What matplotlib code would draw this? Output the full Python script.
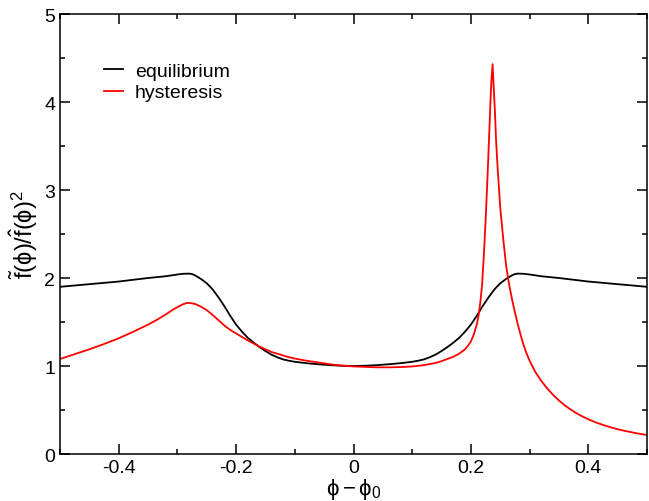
import matplotlib
matplotlib.use("Agg")
import matplotlib.pyplot as plt
from matplotlib.ticker import MultipleLocator

plt.rcParams['font.family'] = ['Liberation Sans', 'DejaVu Sans']
plt.rcParams['mathtext.fontset'] = 'custom'
plt.rcParams['mathtext.rm'] = 'Liberation Sans'
plt.rcParams['mathtext.it'] = 'Liberation Sans'
plt.rcParams['mathtext.sf'] = 'Liberation Sans'

# equilibrium (black)
eq_x = [-0.5, -0.45, -0.4, -0.35, -0.32, -0.30, -0.29, -0.28, -0.275, -0.27, -0.265, -0.26,
        -0.255, -0.25, -0.245, -0.24, -0.235, -0.23, -0.225, -0.22, -0.215, -0.21, -0.205,
        -0.20, -0.195, -0.19, -0.185, -0.18, -0.17, -0.16, -0.15, -0.14, -0.13, -0.12, -0.11,
        -0.10, -0.08, -0.06, -0.04, -0.02, 0.0,
        0.02, 0.04, 0.06, 0.08, 0.10, 0.11, 0.12, 0.13, 0.14, 0.15, 0.16, 0.17, 0.18, 0.185,
        0.19, 0.195, 0.20, 0.205, 0.21, 0.215, 0.22, 0.225, 0.23, 0.235, 0.24, 0.245, 0.25,
        0.255, 0.26, 0.265, 0.27, 0.275, 0.28, 0.29, 0.30, 0.32, 0.35, 0.4, 0.45, 0.5]
eq_y = [1.90, 1.93, 1.96, 2.00, 2.02, 2.04, 2.048, 2.05, 2.045, 2.03, 2.01, 1.99,
        1.965, 1.94, 1.905, 1.87, 1.825, 1.78, 1.73, 1.68, 1.625, 1.57, 1.52,
        1.47, 1.43, 1.39, 1.355, 1.32, 1.265, 1.215, 1.17, 1.13, 1.10, 1.075, 1.06,
        1.048, 1.032, 1.02, 1.01, 1.003, 1.0,
        1.003, 1.01, 1.02, 1.032, 1.048, 1.06, 1.075, 1.10, 1.13, 1.17, 1.215, 1.265, 1.32, 1.355,
        1.39, 1.43, 1.47, 1.52, 1.57, 1.625, 1.68, 1.73, 1.78, 1.825, 1.87, 1.905, 1.94,
        1.965, 1.99, 2.01, 2.03, 2.045, 2.05, 2.048, 2.04, 2.02, 2.00, 1.96, 1.93, 1.90]

# hysteresis (red)
hy_x = [-0.5, -0.475, -0.45, -0.425, -0.40, -0.375, -0.35, -0.335, -0.32, -0.31, -0.30,
        -0.29, -0.285, -0.28, -0.27, -0.26, -0.25, -0.24, -0.23, -0.22, -0.21, -0.20, -0.19,
        -0.18, -0.17, -0.16, -0.15, -0.14, -0.13, -0.12, -0.11, -0.10, -0.08, -0.06, -0.04,
        -0.02, 0.0, 0.02, 0.04, 0.06, 0.08, 0.10, 0.12, 0.14, 0.15, 0.16, 0.17, 0.18, 0.19,
        0.195, 0.20, 0.205, 0.21, 0.213, 0.216, 0.219, 0.222, 0.225, 0.228, 0.231, 0.233,
        0.235, 0.237, 0.239, 0.241, 0.243, 0.246, 0.250, 0.255, 0.260, 0.265, 0.270, 0.275,
        0.280, 0.285, 0.290, 0.295, 0.30, 0.31, 0.32, 0.33, 0.34, 0.35, 0.36, 0.37, 0.38,
        0.39, 0.40, 0.41, 0.42, 0.43, 0.44, 0.45, 0.46, 0.47, 0.48, 0.49, 0.50]
hy_y = [1.08, 1.135, 1.19, 1.25, 1.315, 1.39, 1.47, 1.525, 1.585, 1.63, 1.67,
        1.703, 1.714, 1.718, 1.705, 1.675, 1.635, 1.58, 1.52, 1.46, 1.41, 1.37, 1.33,
        1.29, 1.255, 1.22, 1.19, 1.16, 1.14, 1.12, 1.10, 1.085, 1.06, 1.04, 1.02,
        1.005, 0.995, 0.99, 0.985, 0.985, 0.988, 0.995, 1.01, 1.035, 1.055, 1.08, 1.105, 1.14, 1.19,
        1.23, 1.28, 1.36, 1.47, 1.57, 1.72, 1.92, 2.25, 2.65, 3.10, 3.60, 3.95,
        4.25, 4.43, 4.15, 3.88, 3.55, 3.20, 2.80, 2.45, 2.14, 1.93, 1.76, 1.61,
        1.47, 1.345, 1.235, 1.14, 1.06, 0.93, 0.83, 0.745, 0.672, 0.608, 0.553, 0.505, 0.463,
        0.427, 0.395, 0.367, 0.342, 0.320, 0.300, 0.282, 0.266, 0.252, 0.239, 0.227, 0.216]

x_ticks = [-0.4, -0.2, 0.0, 0.2, 0.4]
x_tick_labels = ['-0.4', '-0.2', '0', '0.2', '0.4']
y_ticks = [0, 1, 2, 3, 4, 5]
y_tick_labels = ['0', '1', '2', '3', '4', '5']

fig = plt.figure(figsize=(6.49, 5.02), dpi=100)
ax = fig.add_axes([0.0925, 0.0936, 0.9044, 0.8765])

ax.plot(eq_x, eq_y, color='black', lw=1.3, label='equilibrium')
ax.plot(hy_x, hy_y, color='red', lw=1.3, label='hysteresis')

ax.set_xlim(-0.5, 0.5)
ax.set_ylim(0, 5)
ax.set_xticks(x_ticks)
ax.set_xticklabels(x_tick_labels)
ax.set_yticks(y_ticks)
ax.set_yticklabels(y_tick_labels)
ax.xaxis.set_minor_locator(MultipleLocator(0.1))
ax.yaxis.set_minor_locator(MultipleLocator(0.5))
ax.tick_params(which='both', direction='in', top=True, right=True, width=1.1, labelsize=14)
ax.tick_params(which='major', length=7)
ax.tick_params(which='minor', length=3.5)
for s in ax.spines.values():
    s.set_linewidth(1.1)

ax.set_xlabel(r'$\mathrm{\phi-\phi_0}$', fontsize=16, labelpad=0)
ax.set_ylabel(r'$\tilde{\mathrm{f}}(\mathrm{\phi})/\hat{\mathrm{f}}(\mathrm{\phi})^2$', fontsize=17, labelpad=3)

ax.legend(loc='upper left', bbox_to_anchor=(0.045, 0.93), frameon=False, fontsize=14,
          handlelength=1.0, handletextpad=0.6, labelspacing=0.2)

fig.savefig('out.png', dpi=100)
